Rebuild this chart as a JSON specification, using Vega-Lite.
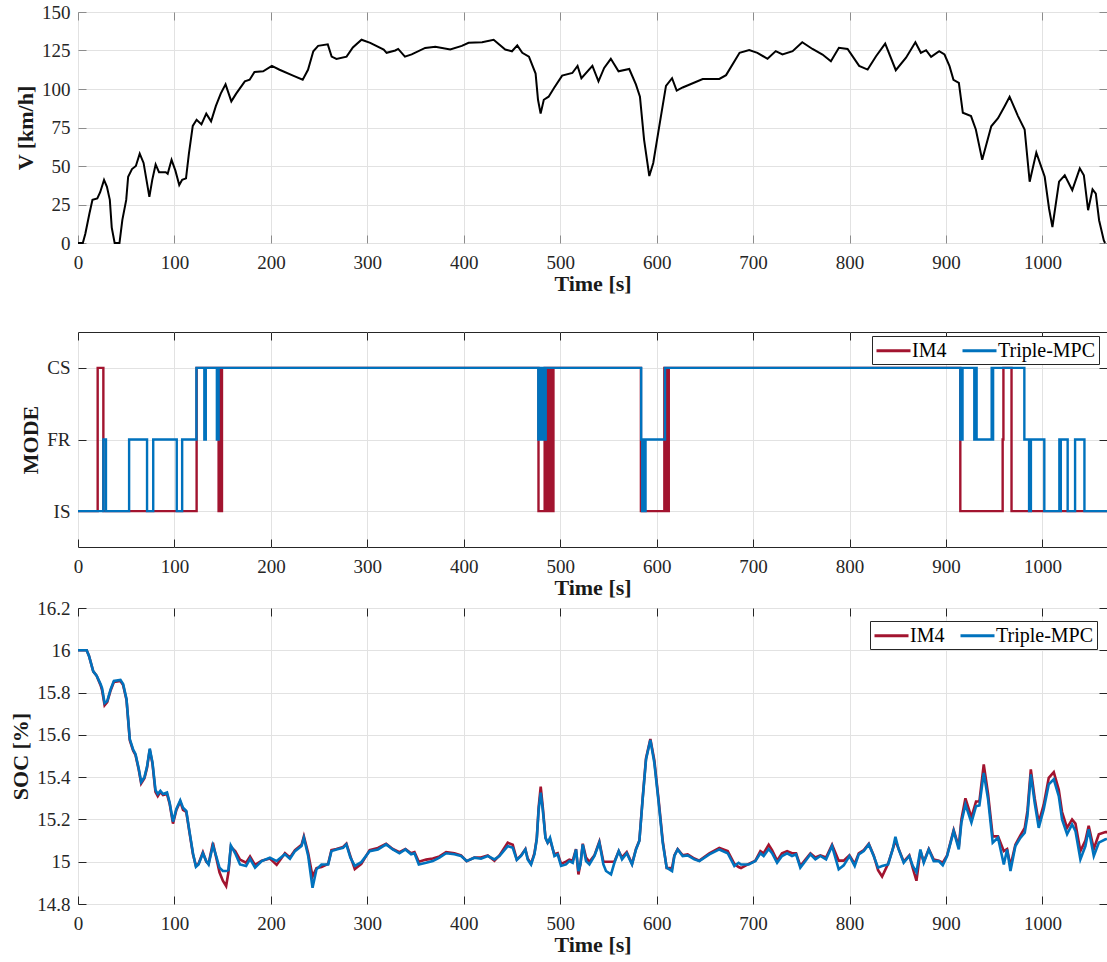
{
  "$schema": "https://vega.github.io/schema/vega-lite/v6.json",
  "padding": {"left": 9, "top": 2, "right": 0, "bottom": 0},
  "background": "white",
  "config": {
    "font": "Liberation Serif",
    "view": {"stroke": "#262626", "strokeWidth": 1},
    "axis": {
      "labelFont": "Liberation Serif",
      "labelFontSize": 19,
      "labelColor": "#262626",
      "titleFont": "Liberation Serif",
      "titleFontSize": 22,
      "titleFontWeight": "bold",
      "titleColor": "#1a1a1a",
      "gridColor": "#e2e2e2",
      "gridWidth": 1,
      "domain": false,
      "tickColor": "#262626",
      "tickSize": -8,
      "tickWidth": 1
    },
    "axisX": {"labelPadding": 18, "titlePadding": 1, "labelFlush": false, "format": "d"},
    "axisY": {"labelPadding": 16, "titlePadding": 4},
    "legend": {
      "orient": "none",
      "direction": "horizontal",
      "title": null,
      "labelFont": "Liberation Serif",
      "labelFontSize": 20,
      "labelColor": "black",
      "symbolType": "M-1,0H2.4",
      "symbolSize": 400,
      "symbolStrokeWidth": 3,
      "labelOffset": 14,
      "columnPadding": 9,
      "padding": 3,
      "strokeColor": "#262626",
      "fillColor": "white"
    }
  },
  "datasets": {
    "speed": [
      {"t": 0, "v": 0}, {"t": 5, "v": 0}, {"t": 7.6, "v": 6}, {"t": 11.8, "v": 19}, {"t": 15, "v": 28},
      {"t": 20, "v": 29}, {"t": 23, "v": 33}, {"t": 27, "v": 41}, {"t": 30, "v": 36.5}, {"t": 33, "v": 28},
      {"t": 35, "v": 10}, {"t": 38, "v": 0}, {"t": 43, "v": 0}, {"t": 46, "v": 15}, {"t": 50, "v": 28},
      {"t": 52, "v": 43}, {"t": 56, "v": 48}, {"t": 60, "v": 50}, {"t": 64, "v": 58}, {"t": 68, "v": 52},
      {"t": 71, "v": 41}, {"t": 74, "v": 30}, {"t": 77, "v": 41}, {"t": 80.5, "v": 51}, {"t": 84, "v": 46},
      {"t": 91, "v": 46}, {"t": 93, "v": 45}, {"t": 97, "v": 54}, {"t": 101, "v": 47}, {"t": 105, "v": 37.6},
      {"t": 108, "v": 41}, {"t": 112, "v": 42}, {"t": 115, "v": 58}, {"t": 119, "v": 76}, {"t": 123, "v": 80},
      {"t": 128, "v": 77}, {"t": 133, "v": 84}, {"t": 138, "v": 79}, {"t": 143, "v": 89}, {"t": 148, "v": 97},
      {"t": 153, "v": 103}, {"t": 159, "v": 92}, {"t": 164, "v": 97}, {"t": 173, "v": 105}, {"t": 178, "v": 106},
      {"t": 183, "v": 111}, {"t": 192, "v": 111.5}, {"t": 201, "v": 115}, {"t": 209, "v": 112.5}, {"t": 223, "v": 108.7},
      {"t": 233, "v": 106}, {"t": 238.5, "v": 112.5}, {"t": 244, "v": 124.5}, {"t": 249, "v": 128}, {"t": 259, "v": 129},
      {"t": 263, "v": 121}, {"t": 268, "v": 119.5}, {"t": 278.5, "v": 121}, {"t": 285, "v": 127}, {"t": 294, "v": 132},
      {"t": 303, "v": 130}, {"t": 317, "v": 125.6}, {"t": 320, "v": 123.5}, {"t": 329, "v": 125}, {"t": 332, "v": 126},
      {"t": 339, "v": 121}, {"t": 346, "v": 122.5}, {"t": 360, "v": 126.7}, {"t": 370.5, "v": 127.4}, {"t": 386, "v": 125.6},
      {"t": 398, "v": 128}, {"t": 405, "v": 130}, {"t": 419, "v": 130.4}, {"t": 431, "v": 132}, {"t": 443, "v": 125.6},
      {"t": 450, "v": 124.5}, {"t": 455.5, "v": 128.3}, {"t": 460.7, "v": 123.5}, {"t": 467.6, "v": 121}, {"t": 474.5, "v": 110},
      {"t": 477, "v": 93}, {"t": 479.7, "v": 84}, {"t": 483, "v": 93}, {"t": 488, "v": 95}, {"t": 493.6, "v": 100.6},
      {"t": 502, "v": 108.7}, {"t": 512.6, "v": 110.4}, {"t": 518, "v": 115}, {"t": 522, "v": 107}, {"t": 533.4, "v": 115},
      {"t": 539.7, "v": 105}, {"t": 545.6, "v": 113.7}, {"t": 552.5, "v": 119.6}, {"t": 560.5, "v": 111.5}, {"t": 571.6, "v": 113},
      {"t": 578.5, "v": 103}, {"t": 582.7, "v": 95}, {"t": 587, "v": 67}, {"t": 592.4, "v": 43.5}, {"t": 596.5, "v": 52},
      {"t": 602.8, "v": 76}, {"t": 609.7, "v": 102}, {"t": 616, "v": 107}, {"t": 620.8, "v": 99}, {"t": 627, "v": 101},
      {"t": 647.8, "v": 106.5}, {"t": 665, "v": 106.5}, {"t": 672, "v": 109}, {"t": 686, "v": 123.5}, {"t": 696, "v": 125.3},
      {"t": 704.5, "v": 123.5}, {"t": 715, "v": 119.6}, {"t": 723.5, "v": 124.6}, {"t": 730.5, "v": 122.4}, {"t": 741, "v": 124.6},
      {"t": 751, "v": 130.4}, {"t": 761.6, "v": 126}, {"t": 772, "v": 122.4}, {"t": 780.7, "v": 118}, {"t": 789, "v": 126.8},
      {"t": 798, "v": 126}, {"t": 810, "v": 115}, {"t": 818.8, "v": 112.6}, {"t": 827.5, "v": 121.3}, {"t": 837, "v": 129.5},
      {"t": 848, "v": 112.2}, {"t": 858.6, "v": 120.3}, {"t": 868.3, "v": 130.4}, {"t": 874, "v": 123.5}, {"t": 879.4, "v": 125.2},
      {"t": 884.6, "v": 120.9}, {"t": 893, "v": 124.6}, {"t": 898.5, "v": 122.4}, {"t": 903.7, "v": 114.8}, {"t": 907.8, "v": 106},
      {"t": 913.4, "v": 104}, {"t": 917.5, "v": 84.6}, {"t": 926, "v": 82.4}, {"t": 931, "v": 73.7}, {"t": 937.6, "v": 54},
      {"t": 947, "v": 75.8}, {"t": 954, "v": 81}, {"t": 961, "v": 89}, {"t": 966, "v": 95}, {"t": 974.7, "v": 82.4},
      {"t": 981.6, "v": 73.7}, {"t": 986.8, "v": 39.8}, {"t": 993.7, "v": 58.7}, {"t": 1002.4, "v": 43}, {"t": 1006.9, "v": 22.4},
      {"t": 1010.4, "v": 10.4}, {"t": 1017.3, "v": 39.8}, {"t": 1023.2, "v": 44}, {"t": 1031, "v": 34.3}, {"t": 1038.8, "v": 48.5},
      {"t": 1043, "v": 44}, {"t": 1047.4, "v": 21.3}, {"t": 1052, "v": 34.8}, {"t": 1055.4, "v": 32}, {"t": 1058.8, "v": 14.8},
      {"t": 1063.7, "v": 1.7}, {"t": 1065, "v": 0}
    ],
    "mode": [
      {"t": 0, "method": "IM4", "mode": 1}, {"t": 20.4, "method": "IM4", "mode": 3}, {"t": 26.3, "method": "IM4", "mode": 1},
      {"t": 123, "method": "IM4", "mode": 3}, {"t": 145.8, "method": "IM4", "mode": 1}, {"t": 146.5, "method": "IM4", "mode": 3},
      {"t": 147.2, "method": "IM4", "mode": 1}, {"t": 147.9, "method": "IM4", "mode": 3}, {"t": 148.6, "method": "IM4", "mode": 1},
      {"t": 149.3, "method": "IM4", "mode": 3}, {"t": 477.5, "method": "IM4", "mode": 1}, {"t": 483.9, "method": "IM4", "mode": 3},
      {"t": 484.8, "method": "IM4", "mode": 1}, {"t": 486.8, "method": "IM4", "mode": 3}, {"t": 487.5, "method": "IM4", "mode": 1},
      {"t": 488.3, "method": "IM4", "mode": 3}, {"t": 489, "method": "IM4", "mode": 1}, {"t": 489.8, "method": "IM4", "mode": 3},
      {"t": 490.6, "method": "IM4", "mode": 1}, {"t": 491.4, "method": "IM4", "mode": 3}, {"t": 492.2, "method": "IM4", "mode": 1},
      {"t": 493, "method": "IM4", "mode": 3}, {"t": 583.7, "method": "IM4", "mode": 1}, {"t": 608, "method": "IM4", "mode": 3},
      {"t": 608.8, "method": "IM4", "mode": 1}, {"t": 609.6, "method": "IM4", "mode": 3}, {"t": 610.4, "method": "IM4", "mode": 1},
      {"t": 611.2, "method": "IM4", "mode": 3}, {"t": 612, "method": "IM4", "mode": 1}, {"t": 612.6, "method": "IM4", "mode": 3},
      {"t": 914.9, "method": "IM4", "mode": 1}, {"t": 958.8, "method": "IM4", "mode": 2}, {"t": 959.6, "method": "IM4", "mode": 3},
      {"t": 968, "method": "IM4", "mode": 1}, {"t": 1067, "method": "IM4", "mode": 1},
      {"t": 0, "method": "Triple-MPC", "mode": 1}, {"t": 26.3, "method": "Triple-MPC", "mode": 2}, {"t": 29, "method": "Triple-MPC", "mode": 1},
      {"t": 53, "method": "Triple-MPC", "mode": 2}, {"t": 71.6, "method": "Triple-MPC", "mode": 1}, {"t": 78, "method": "Triple-MPC", "mode": 2},
      {"t": 102.4, "method": "Triple-MPC", "mode": 1}, {"t": 108, "method": "Triple-MPC", "mode": 2}, {"t": 122.8, "method": "Triple-MPC", "mode": 3},
      {"t": 131, "method": "Triple-MPC", "mode": 2}, {"t": 132.5, "method": "Triple-MPC", "mode": 3}, {"t": 144, "method": "Triple-MPC", "mode": 2},
      {"t": 144.6, "method": "Triple-MPC", "mode": 3}, {"t": 145.2, "method": "Triple-MPC", "mode": 2}, {"t": 145.8, "method": "Triple-MPC", "mode": 3},
      {"t": 477.3, "method": "Triple-MPC", "mode": 2}, {"t": 478.6, "method": "Triple-MPC", "mode": 3}, {"t": 479.3, "method": "Triple-MPC", "mode": 2},
      {"t": 480.3, "method": "Triple-MPC", "mode": 3}, {"t": 481.1, "method": "Triple-MPC", "mode": 2}, {"t": 482.1, "method": "Triple-MPC", "mode": 3},
      {"t": 482.9, "method": "Triple-MPC", "mode": 2}, {"t": 485, "method": "Triple-MPC", "mode": 3}, {"t": 584, "method": "Triple-MPC", "mode": 2},
      {"t": 585, "method": "Triple-MPC", "mode": 1}, {"t": 585.7, "method": "Triple-MPC", "mode": 2}, {"t": 586.4, "method": "Triple-MPC", "mode": 1},
      {"t": 587.2, "method": "Triple-MPC", "mode": 2}, {"t": 587.8, "method": "Triple-MPC", "mode": 1}, {"t": 588.5, "method": "Triple-MPC", "mode": 2},
      {"t": 608.7, "method": "Triple-MPC", "mode": 3}, {"t": 914.9, "method": "Triple-MPC", "mode": 2}, {"t": 915.6, "method": "Triple-MPC", "mode": 3},
      {"t": 916.4, "method": "Triple-MPC", "mode": 2}, {"t": 917.2, "method": "Triple-MPC", "mode": 3}, {"t": 929.4, "method": "Triple-MPC", "mode": 2},
      {"t": 930.4, "method": "Triple-MPC", "mode": 3}, {"t": 931.8, "method": "Triple-MPC", "mode": 2}, {"t": 947.4, "method": "Triple-MPC", "mode": 3},
      {"t": 948.1, "method": "Triple-MPC", "mode": 2}, {"t": 948.9, "method": "Triple-MPC", "mode": 3}, {"t": 981.3, "method": "Triple-MPC", "mode": 2},
      {"t": 986.2, "method": "Triple-MPC", "mode": 1}, {"t": 986.8, "method": "Triple-MPC", "mode": 2}, {"t": 987.5, "method": "Triple-MPC", "mode": 1},
      {"t": 988.1, "method": "Triple-MPC", "mode": 2}, {"t": 1002, "method": "Triple-MPC", "mode": 1}, {"t": 1017.6, "method": "Triple-MPC", "mode": 2},
      {"t": 1018.3, "method": "Triple-MPC", "mode": 1}, {"t": 1019.1, "method": "Triple-MPC", "mode": 2}, {"t": 1026.2, "method": "Triple-MPC", "mode": 1},
      {"t": 1033.9, "method": "Triple-MPC", "mode": 2}, {"t": 1043.6, "method": "Triple-MPC", "mode": 1}, {"t": 1067, "method": "Triple-MPC", "mode": 1}
    ],
    "soc": [
      {"t": 0, "IM4": 16.0, "Triple-MPC": 16.0}, {"t": 9, "IM4": 16.0, "Triple-MPC": 16.0}, {"t": 11.4, "IM4": 15.973, "Triple-MPC": 15.973},
      {"t": 15.8, "IM4": 15.9, "Triple-MPC": 15.9}, {"t": 19.3, "IM4": 15.88, "Triple-MPC": 15.88}, {"t": 23.4, "IM4": 15.835, "Triple-MPC": 15.84},
      {"t": 25, "IM4": 15.81, "Triple-MPC": 15.82}, {"t": 27.6, "IM4": 15.74, "Triple-MPC": 15.75}, {"t": 30.3, "IM4": 15.755, "Triple-MPC": 15.76},
      {"t": 33.8, "IM4": 15.81, "Triple-MPC": 15.815}, {"t": 37.2, "IM4": 15.85, "Triple-MPC": 15.855}, {"t": 44, "IM4": 15.855, "Triple-MPC": 15.86},
      {"t": 46.8, "IM4": 15.835, "Triple-MPC": 15.84}, {"t": 50.3, "IM4": 15.765, "Triple-MPC": 15.77}, {"t": 53.7, "IM4": 15.575, "Triple-MPC": 15.58},
      {"t": 57.2, "IM4": 15.525, "Triple-MPC": 15.53}, {"t": 59.6, "IM4": 15.505, "Triple-MPC": 15.51}, {"t": 63, "IM4": 15.435, "Triple-MPC": 15.44},
      {"t": 65.5, "IM4": 15.37, "Triple-MPC": 15.377}, {"t": 68.9, "IM4": 15.395, "Triple-MPC": 15.4}, {"t": 71.6, "IM4": 15.445, "Triple-MPC": 15.45},
      {"t": 74.4, "IM4": 15.53, "Triple-MPC": 15.535}, {"t": 77.2, "IM4": 15.465, "Triple-MPC": 15.47}, {"t": 80.3, "IM4": 15.33, "Triple-MPC": 15.34},
      {"t": 82.7, "IM4": 15.31, "Triple-MPC": 15.32}, {"t": 85.4, "IM4": 15.33, "Triple-MPC": 15.335}, {"t": 88.2, "IM4": 15.315, "Triple-MPC": 15.32},
      {"t": 92.3, "IM4": 15.32, "Triple-MPC": 15.327}, {"t": 95, "IM4": 15.275, "Triple-MPC": 15.28}, {"t": 98.5, "IM4": 15.18, "Triple-MPC": 15.19},
      {"t": 102, "IM4": 15.245, "Triple-MPC": 15.25}, {"t": 106, "IM4": 15.285, "Triple-MPC": 15.29}, {"t": 108.9, "IM4": 15.245, "Triple-MPC": 15.255},
      {"t": 112.3, "IM4": 15.235, "Triple-MPC": 15.24}, {"t": 115.7, "IM4": 15.135, "Triple-MPC": 15.14}, {"t": 119.2, "IM4": 15.035, "Triple-MPC": 15.04},
      {"t": 122.3, "IM4": 14.98, "Triple-MPC": 14.976}, {"t": 125, "IM4": 14.99, "Triple-MPC": 14.987}, {"t": 129.5, "IM4": 15.045, "Triple-MPC": 15.04},
      {"t": 133, "IM4": 15.0, "Triple-MPC": 15.003}, {"t": 135.4, "IM4": 14.99, "Triple-MPC": 14.987}, {"t": 139.9, "IM4": 15.09, "Triple-MPC": 15.077},
      {"t": 143.3, "IM4": 15.02, "Triple-MPC": 15.027}, {"t": 146.7, "IM4": 14.95, "Triple-MPC": 14.972}, {"t": 150.2, "IM4": 14.91, "Triple-MPC": 14.956},
      {"t": 153.6, "IM4": 14.885, "Triple-MPC": 14.956}, {"t": 156, "IM4": 14.95, "Triple-MPC": 14.96}, {"t": 158.5, "IM4": 15.07, "Triple-MPC": 15.077},
      {"t": 163, "IM4": 15.05, "Triple-MPC": 15.04}, {"t": 168, "IM4": 15.01, "Triple-MPC": 14.987}, {"t": 174.3, "IM4": 14.995, "Triple-MPC": 14.98},
      {"t": 178.4, "IM4": 15.025, "Triple-MPC": 15.014}, {"t": 183.6, "IM4": 14.985, "Triple-MPC": 14.972}, {"t": 190.5, "IM4": 15.005, "Triple-MPC": 15.003},
      {"t": 199, "IM4": 15.015, "Triple-MPC": 15.019}, {"t": 206, "IM4": 14.985, "Triple-MPC": 15.003}, {"t": 214.6, "IM4": 15.04, "Triple-MPC": 15.035},
      {"t": 219.8, "IM4": 15.02, "Triple-MPC": 15.014}, {"t": 225, "IM4": 15.055, "Triple-MPC": 15.05}, {"t": 231.8, "IM4": 15.08, "Triple-MPC": 15.074},
      {"t": 234.2, "IM4": 15.12, "Triple-MPC": 15.113}, {"t": 238.7, "IM4": 15.04, "Triple-MPC": 15.027}, {"t": 243.2, "IM4": 14.93, "Triple-MPC": 14.877},
      {"t": 247.3, "IM4": 14.97, "Triple-MPC": 14.964}, {"t": 252.5, "IM4": 14.975, "Triple-MPC": 14.987}, {"t": 259.4, "IM4": 14.99, "Triple-MPC": 14.987},
      {"t": 262.8, "IM4": 15.055, "Triple-MPC": 15.05}, {"t": 268, "IM4": 15.06, "Triple-MPC": 15.058}, {"t": 274.9, "IM4": 15.07, "Triple-MPC": 15.066},
      {"t": 278.3, "IM4": 15.085, "Triple-MPC": 15.082}, {"t": 282.5, "IM4": 15.025, "Triple-MPC": 15.019}, {"t": 287, "IM4": 14.965, "Triple-MPC": 14.98},
      {"t": 293.8, "IM4": 14.99, "Triple-MPC": 14.998}, {"t": 302.4, "IM4": 15.055, "Triple-MPC": 15.05}, {"t": 311, "IM4": 15.065, "Triple-MPC": 15.058},
      {"t": 319.5, "IM4": 15.085, "Triple-MPC": 15.082}, {"t": 326.4, "IM4": 15.06, "Triple-MPC": 15.058}, {"t": 333.3, "IM4": 15.045, "Triple-MPC": 15.04},
      {"t": 339.5, "IM4": 15.06, "Triple-MPC": 15.058}, {"t": 345.4, "IM4": 15.04, "Triple-MPC": 15.035}, {"t": 348.9, "IM4": 15.045, "Triple-MPC": 15.04},
      {"t": 353.4, "IM4": 15.0, "Triple-MPC": 14.987}, {"t": 361, "IM4": 15.01, "Triple-MPC": 14.995}, {"t": 367.9, "IM4": 15.015, "Triple-MPC": 15.003},
      {"t": 374.8, "IM4": 15.025, "Triple-MPC": 15.019}, {"t": 381.7, "IM4": 15.045, "Triple-MPC": 15.04}, {"t": 390.3, "IM4": 15.04, "Triple-MPC": 15.035},
      {"t": 397.2, "IM4": 15.03, "Triple-MPC": 15.027}, {"t": 403, "IM4": 15.003, "Triple-MPC": 15.003}, {"t": 411, "IM4": 15.02, "Triple-MPC": 15.019},
      {"t": 417.9, "IM4": 15.02, "Triple-MPC": 15.014}, {"t": 424.9, "IM4": 15.03, "Triple-MPC": 15.027}, {"t": 431.8, "IM4": 15.005, "Triple-MPC": 15.011},
      {"t": 437, "IM4": 15.03, "Triple-MPC": 15.027}, {"t": 445.6, "IM4": 15.09, "Triple-MPC": 15.074}, {"t": 450.8, "IM4": 15.08, "Triple-MPC": 15.066},
      {"t": 455, "IM4": 15.01, "Triple-MPC": 15.008}, {"t": 459.4, "IM4": 15.03, "Triple-MPC": 15.027}, {"t": 463.9, "IM4": 15.06, "Triple-MPC": 15.058},
      {"t": 466.3, "IM4": 15.015, "Triple-MPC": 15.011}, {"t": 469.8, "IM4": 14.99, "Triple-MPC": 14.987}, {"t": 473.3, "IM4": 15.04, "Triple-MPC": 15.035},
      {"t": 475.7, "IM4": 15.11, "Triple-MPC": 15.106}, {"t": 477.7, "IM4": 15.26, "Triple-MPC": 15.248}, {"t": 479.8, "IM4": 15.355, "Triple-MPC": 15.327},
      {"t": 481.9, "IM4": 15.26, "Triple-MPC": 15.248}, {"t": 484.7, "IM4": 15.115, "Triple-MPC": 15.113}, {"t": 487, "IM4": 15.09, "Triple-MPC": 15.09},
      {"t": 489.5, "IM4": 15.105, "Triple-MPC": 15.113}, {"t": 491.6, "IM4": 15.07, "Triple-MPC": 15.074}, {"t": 494, "IM4": 15.035, "Triple-MPC": 15.027},
      {"t": 497.4, "IM4": 15.04, "Triple-MPC": 15.035}, {"t": 500.9, "IM4": 14.99, "Triple-MPC": 14.98}, {"t": 506, "IM4": 15.0, "Triple-MPC": 14.987},
      {"t": 509.5, "IM4": 15.01, "Triple-MPC": 15.003}, {"t": 513, "IM4": 15.005, "Triple-MPC": 14.995}, {"t": 516.4, "IM4": 15.06, "Triple-MPC": 15.058},
      {"t": 518.9, "IM4": 14.94, "Triple-MPC": 14.956}, {"t": 521, "IM4": 14.99, "Triple-MPC": 14.987}, {"t": 523.4, "IM4": 15.085, "Triple-MPC": 15.082},
      {"t": 526.8, "IM4": 15.02, "Triple-MPC": 15.003}, {"t": 530.3, "IM4": 15.0, "Triple-MPC": 14.987}, {"t": 535.5, "IM4": 15.03, "Triple-MPC": 15.027},
      {"t": 540.6, "IM4": 15.095, "Triple-MPC": 15.09}, {"t": 544.8, "IM4": 15.0, "Triple-MPC": 14.987}, {"t": 547.5, "IM4": 15.0, "Triple-MPC": 14.956},
      {"t": 552.7, "IM4": 15.0, "Triple-MPC": 14.94}, {"t": 556.2, "IM4": 15.0, "Triple-MPC": 14.995}, {"t": 560.7, "IM4": 15.05, "Triple-MPC": 15.05},
      {"t": 564.1, "IM4": 15.02, "Triple-MPC": 15.011}, {"t": 569, "IM4": 15.045, "Triple-MPC": 15.04}, {"t": 574.5, "IM4": 14.99, "Triple-MPC": 14.987},
      {"t": 578.6, "IM4": 15.06, "Triple-MPC": 15.058}, {"t": 582.1, "IM4": 15.1, "Triple-MPC": 15.098}, {"t": 585.5, "IM4": 15.3, "Triple-MPC": 15.295},
      {"t": 589, "IM4": 15.49, "Triple-MPC": 15.484}, {"t": 593.5, "IM4": 15.58, "Triple-MPC": 15.576}, {"t": 597.6, "IM4": 15.48, "Triple-MPC": 15.468},
      {"t": 602.1, "IM4": 15.29, "Triple-MPC": 15.279}, {"t": 606.3, "IM4": 15.1, "Triple-MPC": 15.09}, {"t": 610.4, "IM4": 14.97, "Triple-MPC": 14.972},
      {"t": 616, "IM4": 14.97, "Triple-MPC": 14.956}, {"t": 618.4, "IM4": 15.03, "Triple-MPC": 15.027}, {"t": 621.8, "IM4": 15.06, "Triple-MPC": 15.058},
      {"t": 627, "IM4": 15.03, "Triple-MPC": 15.027}, {"t": 632.2, "IM4": 15.035, "Triple-MPC": 15.03}, {"t": 639.1, "IM4": 15.015, "Triple-MPC": 15.011},
      {"t": 644.3, "IM4": 15.005, "Triple-MPC": 15.003}, {"t": 654.7, "IM4": 15.04, "Triple-MPC": 15.035}, {"t": 665, "IM4": 15.065, "Triple-MPC": 15.058},
      {"t": 673.7, "IM4": 15.05, "Triple-MPC": 15.04}, {"t": 680.6, "IM4": 14.99, "Triple-MPC": 14.98}, {"t": 685, "IM4": 14.975, "Triple-MPC": 14.995},
      {"t": 687.5, "IM4": 14.97, "Triple-MPC": 14.987}, {"t": 695.5, "IM4": 14.99, "Triple-MPC": 14.987}, {"t": 702.4, "IM4": 15.005, "Triple-MPC": 15.003},
      {"t": 707.6, "IM4": 15.05, "Triple-MPC": 15.04}, {"t": 711, "IM4": 15.04, "Triple-MPC": 15.027}, {"t": 716.2, "IM4": 15.08, "Triple-MPC": 15.06},
      {"t": 719.7, "IM4": 15.055, "Triple-MPC": 15.04}, {"t": 724.9, "IM4": 15.005, "Triple-MPC": 14.995}, {"t": 730, "IM4": 15.04, "Triple-MPC": 15.027},
      {"t": 735.3, "IM4": 15.05, "Triple-MPC": 15.04}, {"t": 740.4, "IM4": 15.04, "Triple-MPC": 15.027}, {"t": 744.6, "IM4": 15.04, "Triple-MPC": 15.035},
      {"t": 749, "IM4": 14.98, "Triple-MPC": 14.972}, {"t": 754.3, "IM4": 15.01, "Triple-MPC": 15.003}, {"t": 759.5, "IM4": 15.04, "Triple-MPC": 15.035},
      {"t": 764.6, "IM4": 15.02, "Triple-MPC": 15.011}, {"t": 769.8, "IM4": 15.03, "Triple-MPC": 15.027}, {"t": 775.7, "IM4": 15.02, "Triple-MPC": 15.011},
      {"t": 781.9, "IM4": 15.08, "Triple-MPC": 15.074}, {"t": 788.8, "IM4": 15.005, "Triple-MPC": 14.964}, {"t": 794, "IM4": 15.005, "Triple-MPC": 14.983},
      {"t": 799.9, "IM4": 15.03, "Triple-MPC": 15.027}, {"t": 805.4, "IM4": 14.99, "Triple-MPC": 14.98}, {"t": 809.6, "IM4": 15.04, "Triple-MPC": 15.035},
      {"t": 814.8, "IM4": 15.055, "Triple-MPC": 15.05}, {"t": 820, "IM4": 15.085, "Triple-MPC": 15.082}, {"t": 825.1, "IM4": 15.03, "Triple-MPC": 15.027},
      {"t": 829.6, "IM4": 14.96, "Triple-MPC": 14.972}, {"t": 833.8, "IM4": 14.93, "Triple-MPC": 14.98}, {"t": 840, "IM4": 14.99, "Triple-MPC": 14.987},
      {"t": 844.8, "IM4": 15.06, "Triple-MPC": 15.058}, {"t": 847.6, "IM4": 15.1, "Triple-MPC": 15.118}, {"t": 851, "IM4": 15.06, "Triple-MPC": 15.058},
      {"t": 856.2, "IM4": 15.0, "Triple-MPC": 14.995}, {"t": 862, "IM4": 15.03, "Triple-MPC": 15.027}, {"t": 865.6, "IM4": 14.97, "Triple-MPC": 14.98},
      {"t": 869.4, "IM4": 14.91, "Triple-MPC": 14.95}, {"t": 873.5, "IM4": 15.05, "Triple-MPC": 15.058}, {"t": 877, "IM4": 15.0, "Triple-MPC": 14.995},
      {"t": 882.2, "IM4": 15.06, "Triple-MPC": 15.058}, {"t": 887.3, "IM4": 15.01, "Triple-MPC": 15.003}, {"t": 892.5, "IM4": 15.005, "Triple-MPC": 15.003},
      {"t": 896.7, "IM4": 14.995, "Triple-MPC": 14.983}, {"t": 901.2, "IM4": 15.03, "Triple-MPC": 15.027}, {"t": 908, "IM4": 15.15, "Triple-MPC": 15.145},
      {"t": 913.3, "IM4": 15.07, "Triple-MPC": 15.058}, {"t": 916, "IM4": 15.2, "Triple-MPC": 15.185}, {"t": 920.2, "IM4": 15.3, "Triple-MPC": 15.271},
      {"t": 926.4, "IM4": 15.21, "Triple-MPC": 15.185}, {"t": 931.2, "IM4": 15.285, "Triple-MPC": 15.263}, {"t": 934.7, "IM4": 15.285, "Triple-MPC": 15.266},
      {"t": 939.2, "IM4": 15.46, "Triple-MPC": 15.42}, {"t": 943.7, "IM4": 15.32, "Triple-MPC": 15.295}, {"t": 948.5, "IM4": 15.12, "Triple-MPC": 15.09},
      {"t": 954, "IM4": 15.12, "Triple-MPC": 15.114}, {"t": 960, "IM4": 15.05, "Triple-MPC": 14.987}, {"t": 963.4, "IM4": 15.06, "Triple-MPC": 15.058},
      {"t": 966.9, "IM4": 14.98, "Triple-MPC": 14.956}, {"t": 972, "IM4": 15.08, "Triple-MPC": 15.074}, {"t": 977.2, "IM4": 15.125, "Triple-MPC": 15.113},
      {"t": 981.7, "IM4": 15.16, "Triple-MPC": 15.137}, {"t": 984.5, "IM4": 15.24, "Triple-MPC": 15.216}, {"t": 988, "IM4": 15.437, "Triple-MPC": 15.413},
      {"t": 992, "IM4": 15.3, "Triple-MPC": 15.279}, {"t": 996.2, "IM4": 15.185, "Triple-MPC": 15.16}, {"t": 1001.4, "IM4": 15.27, "Triple-MPC": 15.248},
      {"t": 1006.6, "IM4": 15.397, "Triple-MPC": 15.366}, {"t": 1011.8, "IM4": 15.424, "Triple-MPC": 15.39}, {"t": 1017, "IM4": 15.34, "Triple-MPC": 15.31},
      {"t": 1020.4, "IM4": 15.235, "Triple-MPC": 15.2}, {"t": 1025.6, "IM4": 15.16, "Triple-MPC": 15.13}, {"t": 1030.8, "IM4": 15.2, "Triple-MPC": 15.177},
      {"t": 1034.3, "IM4": 15.18, "Triple-MPC": 15.145}, {"t": 1039.4, "IM4": 15.05, "Triple-MPC": 15.011}, {"t": 1044.6, "IM4": 15.1, "Triple-MPC": 15.074},
      {"t": 1048, "IM4": 15.17, "Triple-MPC": 15.153}, {"t": 1053.3, "IM4": 15.06, "Triple-MPC": 15.027}, {"t": 1058.5, "IM4": 15.13, "Triple-MPC": 15.09},
      {"t": 1065.4, "IM4": 15.14, "Triple-MPC": 15.106}, {"t": 1067, "IM4": 15.14, "Triple-MPC": 15.108}
    ]
  },
  "spacing": 36,
  "vconcat": [
    {
      "width": 1029,
      "height": 231,
      "view": {"stroke": "#8c8c8c"},
      "data": {"name": "speed"},
      "layer": [
        {
          "mark": {"type": "line", "color": "black", "strokeWidth": 2},
          "encoding": {
            "x": {"field": "t", "type": "quantitative", "scale": {"domain": [0, 1067], "nice": false, "zero": false},
                  "axis": {"values": [0, 100, 200, 300, 400, 500, 600, 700, 800, 900, 1000], "tickColor": "#8c8c8c", "title": "Time [s]"}},
            "y": {"field": "v", "type": "quantitative", "scale": {"domain": [0, 150], "nice": false},
                  "axis": {"values": [0, 25, 50, 75, 100, 125, 150], "tickColor": "#8c8c8c", "title": "V [km/h]"}}
          }
        },
        {
          "mark": {"type": "point", "opacity": 0},
          "encoding": {
            "x": {"field": "t", "type": "quantitative",
                  "axis": {"orient": "top", "values": [0, 100, 200, 300, 400, 500, 600, 700, 800, 900, 1000], "tickColor": "#8c8c8c", "labels": false, "grid": false, "title": null}},
            "y": {"field": "v", "type": "quantitative",
                  "axis": {"orient": "right", "values": [0, 25, 50, 75, 100, 125, 150], "tickColor": "#8c8c8c", "labels": false, "grid": false, "title": null}}
          }
        }
      ],
      "resolve": {"axis": {"x": "independent", "y": "independent"}}
    },
    {
      "bounds": "flush",
      "spacing": 61,
      "resolve": {"scale": {"color": "independent"}, "legend": {"color": "independent"}},
      "vconcat": [
        {
          "width": 1029,
          "height": 215,
          "data": {"name": "mode"},
          "layer": [
            {
              "mark": {"type": "line", "interpolate": "step-after", "strokeWidth": 2.4},
              "encoding": {
                "x": {"field": "t", "type": "quantitative", "scale": {"domain": [0, 1067], "nice": false, "zero": false},
                      "axis": {"values": [0, 100, 200, 300, 400, 500, 600, 700, 800, 900, 1000], "title": "Time [s]"}},
                "y": {"field": "mode", "type": "quantitative", "scale": {"domain": [0.5, 3.5], "nice": false, "zero": false},
                      "axis": {"values": [1, 2, 3], "labelExpr": "datum.value == 1 ? 'IS' : datum.value == 2 ? 'FR' : 'CS'", "title": "MODE"}},
                "color": {"field": "method", "type": "nominal",
                          "scale": {"domain": ["IM4", "Triple-MPC"], "range": ["#A2142F", "#0072BD"]},
                          "legend": {"legendX": 794, "legendY": 4}}
              }
            },
            {
              "mark": {"type": "point", "opacity": 0},
              "encoding": {
                "x": {"field": "t", "type": "quantitative",
                      "axis": {"orient": "top", "values": [0, 100, 200, 300, 400, 500, 600, 700, 800, 900, 1000], "labels": false, "grid": false, "title": null}},
                "y": {"field": "mode", "type": "quantitative",
                      "axis": {"orient": "right", "values": [1, 2, 3], "labels": false, "grid": false, "title": null}}
              }
            }
          ],
          "resolve": {"axis": {"x": "independent", "y": "independent"}}
        },
        {
          "width": 1029,
          "height": 296,
          "data": {"name": "soc"},
          "transform": [{"fold": ["IM4", "Triple-MPC"], "as": ["method", "soc"]}],
          "layer": [
            {
              "mark": {"type": "line", "strokeWidth": 2.6},
              "encoding": {
                "x": {"field": "t", "type": "quantitative", "scale": {"domain": [0, 1067], "nice": false, "zero": false},
                      "axis": {"values": [0, 100, 200, 300, 400, 500, 600, 700, 800, 900, 1000], "title": "Time [s]"}},
                "y": {"field": "soc", "type": "quantitative", "scale": {"domain": [14.8, 16.2], "nice": false, "zero": false},
                      "axis": {"values": [14.8, 15, 15.2, 15.4, 15.6, 15.8, 16, 16.2], "format": ".1~f", "title": "SOC [%]"}},
                "color": {"field": "method", "type": "nominal",
                          "scale": {"domain": ["IM4", "Triple-MPC"], "range": ["#A2142F", "#0072BD"]},
                          "legend": {"legendX": 792, "legendY": 13}}
              }
            },
            {
              "mark": {"type": "point", "opacity": 0},
              "encoding": {
                "x": {"field": "t", "type": "quantitative",
                      "axis": {"orient": "top", "values": [0, 100, 200, 300, 400, 500, 600, 700, 800, 900, 1000], "labels": false, "grid": false, "title": null}},
                "y": {"field": "soc", "type": "quantitative",
                      "axis": {"orient": "right", "values": [14.8, 15, 15.2, 15.4, 15.6, 15.8, 16, 16.2], "labels": false, "grid": false, "title": null}}
              }
            }
          ],
          "resolve": {"axis": {"x": "independent", "y": "independent"}}
        }
      ]
    }
  ]
}
